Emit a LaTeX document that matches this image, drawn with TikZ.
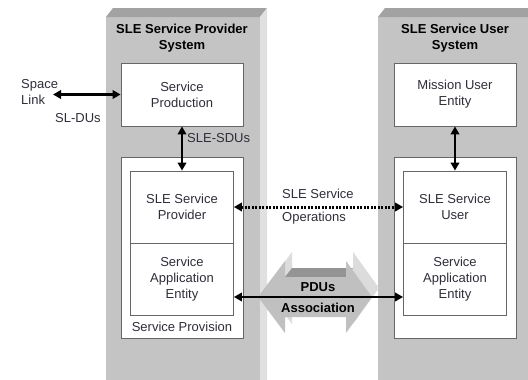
\documentclass[tikz,border=0pt]{standalone}
\usepackage{fontspec}
\setmainfont{Liberation Sans}
\usetikzlibrary{arrows.meta, positioning, calc}
\definecolor{slab}{HTML}{C4C4C4}
\definecolor{slabtop}{HTML}{A2A2A2}
\definecolor{slabside}{HTML}{E0E0E0}
\definecolor{pdufront}{HTML}{C0C0C0}
\definecolor{pduback}{HTML}{DCDCDC}
\definecolor{pdutop}{HTML}{949494}
\definecolor{frame}{HTML}{666666}
\definecolor{txt}{HTML}{2E2E3A}

\begin{document}
\begin{tikzpicture}[x=1pt, y=-1pt,
    box/.style={draw=frame, fill=white, line width=0.8pt, inner sep=0pt, align=center, text=txt, font=\fontsize{13}{16}\selectfont},
    lbl/.style={inner sep=0pt, align=center, text=txt, font=\fontsize{13}{16}\selectfont},
    title/.style={inner sep=0pt, align=center, font=\fontsize{13}{16}\selectfont\bfseries},
    link/.style={line width=2.5pt, {Triangle[length=8pt,width=8.5pt]}-{Triangle[length=8pt,width=8.5pt]}},
    >=Stealth
]
\fill[white] (0,0) rectangle (528,380);
\useasboundingbox (0,0) rectangle (528,380);

% system slabs
\fill[slab] (106,17) rectangle (260,380);
\fill[slabtop] (106,17) -- (113,8) -- (267,8) -- (260,17) -- cycle;
\fill[slabside] (260,17) -- (267,8) -- (267,380) -- (260,380) -- cycle;
\fill[slab] (378,17) rectangle (528,380);
\fill[slabtop] (378,17) -- (385,8) -- (528,8) -- (528,17) -- cycle;

% big PDU double arrow
\fill[pduback, shift={(7,-9)}] (258,297) -- (285,261) -- (285,277) -- (346,277) -- (346,261) -- (372,297)
    -- (346,333) -- (346,317) -- (285,317) -- (285,333) -- cycle;
\fill[pdutop] (285,277) -- (292,268) -- (353,268) -- (346,277) -- cycle;
\fill[pdufront] (258,297) -- (285,261) -- (285,277) -- (346,277) -- (346,261) -- (372,297)
    -- (346,333) -- (346,317) -- (285,317) -- (285,333) -- cycle;

% provider side
\node[title] (ptitle) at (182,38) {SLE Service Provider\\System};
\node[box, minimum width=122pt, minimum height=63pt] (prod) at (182,94.5) {Service\\Production};
\node[box, minimum width=122pt, minimum height=181pt] (provp) at (182,247.5) {};
\node[box, minimum width=103pt, minimum height=72pt] (slep) at (182,207) {SLE Service\\Provider};
\node[box, minimum width=103pt, minimum height=72pt] (saep) at (182,279) {Service\\Application\\Entity};
\node[lbl] (provlbl) at (182,327) {Service Provision};

% user side
\node[title] (utitle) at (455,38) {SLE Service User\\System};
\node[box, minimum width=122pt, minimum height=63pt] (mue) at (455,94.5) {Mission User\\Entity};
\node[box, minimum width=122pt, minimum height=181pt] (provu) at (455,247.5) {};
\node[box, minimum width=103pt, minimum height=72pt] (sleu) at (455,207) {SLE Service\\User};
\node[box, minimum width=103pt, minimum height=72pt] (saeu) at (455,279) {Service\\Application\\Entity};

% space link
\coordinate (space) at (53,94.5);
\node[lbl, align=left, anchor=west] (spacelbl) at (21,91.5) {Space\\Link};
\node[lbl] (sldus) at (78,118) {SL-DUs};
\draw[link] (space) -- (prod.west);

% vertical links
\draw[link] (prod.south) -- (slep.north);
\node[lbl, anchor=west] (sdus) at (187,138) {SLE-SDUs};
\draw[link] (mue.south) -- (sleu.north);

% operations and association
\draw[link, line width=3pt, dash pattern=on 2pt off 1.5pt] (slep.east) -- (sleu.west);
\node[lbl, anchor=west] (ops1) at (282,194) {SLE Service};
\node[lbl, anchor=west] (ops2) at (282,218) {Operations};
\draw[link] ([yshift=-18pt]saep.east) -- ([yshift=-18pt]saeu.west);
\node[title] (pdus) at (318,287) {PDUs};
\node[title] (assoc) at (318,308) {Association};
\end{tikzpicture}
\end{document}
